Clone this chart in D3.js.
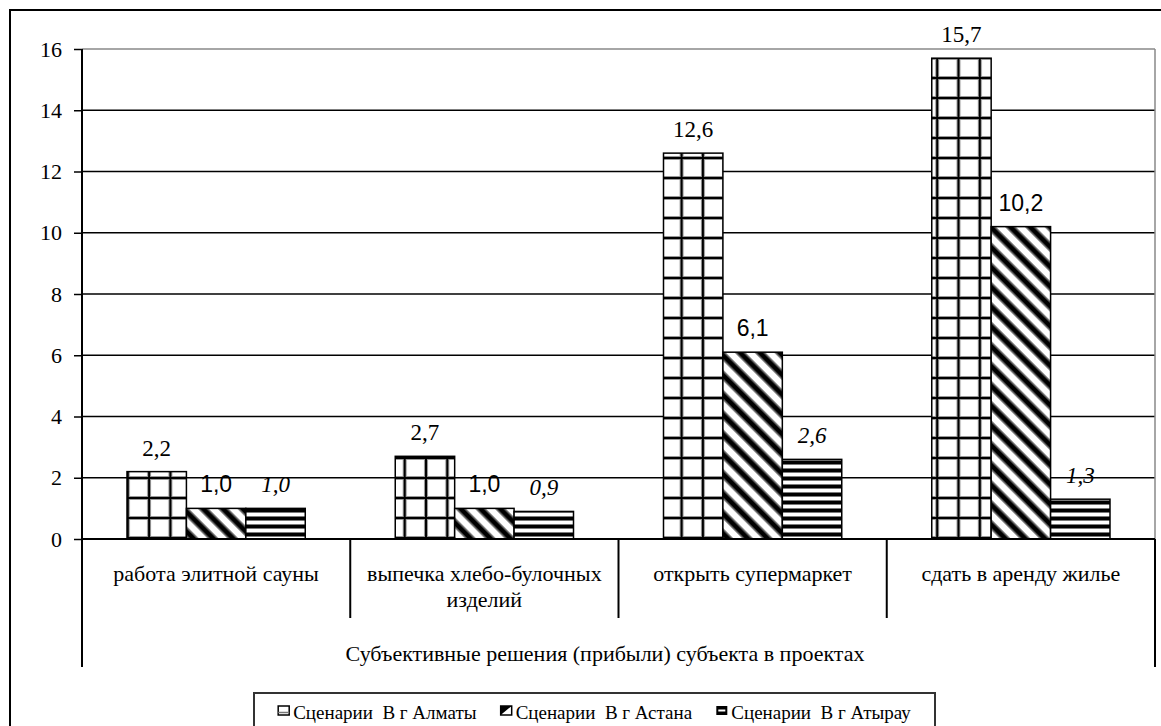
<!DOCTYPE html>
<html>
<head>
<meta charset="utf-8">
<script src="https://cdn.jsdelivr.net/npm/d3@7"></script>
<style>
  @font-face { font-family: "ChartSerif"; src: local("Liberation Serif"), local("Times New Roman"), local("Tinos"); font-style: normal; }
  @font-face { font-family: "ChartSerif"; src: local("Liberation Serif Italic"), local("LiberationSerif-Italic"), local("Times New Roman Italic"); font-style: italic; }
  body { margin: 0; background: #fff; }
  svg { display: block; }
  svg text { font-family: "Liberation Serif", "Times New Roman", Tinos, ChartSerif, serif !important; }
  svg text.sans { font-family: "Liberation Sans", Arial, Arimo, sans-serif !important; }
</style>
</head>
<body>
<svg id="chart" width="1161" height="726"></svg>
<script>
// Profit of each project under three city scenarios
const categories = [
  "работа элитной сауны",
  "выпечка хлебо-булочных изделий",
  "открыть супермаркет",
  "сдать в аренду жилье"
];
const seriesNames = ["Сценарии  В г Алматы", "Сценарии  В г Астана", "Сценарии  В г Атырау"];
const almatyValues = [2.2, 2.7, 12.6, 15.7];
const astanaValues = [1.0, 1.0, 6.1, 10.2];
const atyrauValues = [1.0, 0.9, 2.6, 1.3];
const yTickValues = [0, 2, 4, 6, 8, 10, 12, 14, 16];
const axisTitle = "Субъективные решения (прибыли) субъекта в проектах";

const seriesValues = [almatyValues, astanaValues, atyrauValues];

// Layout
const W = 1161, H = 726;
const plot = { left: 82, right: 1155, top: 49, bottom: 539 };
const axisBottom = 667;      // lower end of the category axis box
const sepBottom = 618;       // lower end of the category separators
const SERIF = '"Liberation Serif", "Times New Roman", serif';
const SANS = '"Liberation Sans", Arial, sans-serif';

const svg = d3.select("#chart");
const defs = svg.append("defs");

// ---- fill patterns ----
// Almaty: square grid
(function () {
  const w = 21.3, h = 20;
  const p = defs.append("pattern").attr("id", "pat-grid")
    .attr("patternUnits", "userSpaceOnUse")
    .attr("x", -w / 2).attr("y", 18 - h / 2)
    .attr("width", w).attr("height", h);
  p.append("rect").attr("width", w).attr("height", h).attr("fill", "#fff");
  p.append("line").attr("x1", w / 2).attr("x2", w / 2).attr("y1", 0).attr("y2", h)
    .attr("stroke", "#999").attr("stroke-width", 4);
  p.append("line").attr("x1", 0).attr("x2", w).attr("y1", h / 2).attr("y2", h / 2)
    .attr("stroke", "#999").attr("stroke-width", 4);
  p.append("line").attr("x1", w / 2).attr("x2", w / 2).attr("y1", 0).attr("y2", h)
    .attr("stroke", "#000").attr("stroke-width", 2);
  p.append("line").attr("x1", 0).attr("x2", w).attr("y1", h / 2).attr("y2", h / 2)
    .attr("stroke", "#000").attr("stroke-width", 2);
})();

// Astana: wide diagonal stripes running down to the right
(function () {
  const period = 14;
  const p = defs.append("pattern").attr("id", "pat-diag")
    .attr("patternUnits", "userSpaceOnUse")
    .attr("width", 10).attr("height", period)
    .attr("patternTransform", "rotate(45)");
  p.append("rect").attr("width", 10).attr("height", period).attr("fill", "#fff");
  p.append("rect").attr("y", 2).attr("width", 10).attr("height", 8).attr("fill", "#888");
  p.append("rect").attr("y", 3.5).attr("width", 10).attr("height", 5).attr("fill", "#000");
})();

// Atyrau: dense horizontal stripes
(function () {
  const period = 8;
  const p = defs.append("pattern").attr("id", "pat-horiz")
    .attr("patternUnits", "userSpaceOnUse")
    .attr("width", 10).attr("height", period).attr("y", 3);
  p.append("rect").attr("width", 10).attr("height", period).attr("fill", "#fff");
  p.append("rect").attr("y", 1).attr("width", 10).attr("height", 5).attr("fill", "#999");
  p.append("rect").attr("y", 1.8).attr("width", 10).attr("height", 3.4).attr("fill", "#000");
})();

const fills = ["url(#pat-grid)", "url(#pat-diag)", "url(#pat-horiz)"];

// ---- outer frame ----
svg.append("rect")
  .attr("x", 10).attr("y", 10)
  .attr("width", W + 20).attr("height", H + 20)
  .attr("fill", "#fff").attr("stroke", "#000").attr("stroke-width", 2);

// ---- scales ----
const x0 = d3.scaleBand().domain(categories).range([plot.left, plot.right]).padding(0);
// three adjoining ~60px bars centred in each ~268px band
const x1 = d3.scaleBand().domain(d3.range(seriesNames.length))
  .range([45, x0.bandwidth() - 45]).padding(0);
const y = d3.scaleLinear().domain([0, 16]).range([plot.bottom, plot.top]);

// ---- gridlines ----
svg.append("g")
  .selectAll("line")
  .data(yTickValues.filter(d => d > 0))
  .join("line")
  .attr("x1", plot.left).attr("x2", plot.right)
  .attr("y1", d => y(d)).attr("y2", d => y(d))
  .attr("stroke", d => d === 16 ? "#888" : "#000")
  .attr("stroke-width", 1.5);

// plot area right border
svg.append("line")
  .attr("x1", plot.right).attr("x2", plot.right)
  .attr("y1", plot.top).attr("y2", plot.bottom)
  .attr("stroke", "#888").attr("stroke-width", 1.5);

// ---- y axis ----
const yAxis = d3.axisLeft(y).tickValues(yTickValues).tickSize(8).tickPadding(12)
  .tickFormat(d3.format("d"));
const gy = svg.append("g").attr("transform", `translate(${plot.left},0)`).call(yAxis);
gy.attr("font-family", SERIF).attr("font-size", 22);
gy.select(".domain").remove();
gy.selectAll(".tick line").attr("stroke", "#000").attr("stroke-width", 1.5);
gy.selectAll(".tick text").attr("fill", "#000").style("font-family", SERIF);

// ---- bars ----
const fmt = d3.formatLocale({ decimal: ",", thousands: " ", grouping: [3], currency: ["", ""] }).format(".1f");

const groups = svg.append("g").selectAll("g")
  .data(categories)
  .join("g");

groups.each(function (cat, ci) {
  const g = d3.select(this);
  seriesValues.forEach((vals, si) => {
    const v = vals[ci];
    g.append("rect")
      .attr("x", x0(cat) + x1(si)).attr("y", y(v))
      .attr("width", x1.bandwidth()).attr("height", y(0) - y(v))
      .attr("fill", fills[si])
      .attr("stroke", "#000").attr("stroke-width", 1.5);
  });
});

// value labels: serif, sans, serif italic per series
const labelFamily = [SERIF, SANS, SERIF];
const labelClass = [null, "sans", null];
const labelStyle = ["normal", "normal", "italic"];
groups.each(function (cat, ci) {
  const g = d3.select(this);
  seriesValues.forEach((vals, si) => {
    const v = vals[ci];
    g.append("text")
      .attr("class", labelClass[si])
      .attr("x", x0(cat) + x1(si) + x1.bandwidth() / 2)
      .attr("y", y(v) - 16)
      .attr("text-anchor", "middle")
      .attr("font-family", labelFamily[si])
      .style("font-style", labelStyle[si])
      .attr("font-size", 23)
      .attr("fill", "#000")
      .text(fmt(v));
  });
});

// ---- category axis ----
svg.append("line")
  .attr("x1", plot.left).attr("x2", plot.right)
  .attr("y1", plot.bottom).attr("y2", plot.bottom)
  .attr("stroke", "#000").attr("stroke-width", 2);
svg.append("line")
  .attr("x1", plot.left).attr("x2", plot.left)
  .attr("y1", plot.top).attr("y2", axisBottom)
  .attr("stroke", "#000").attr("stroke-width", 2);
svg.append("line")
  .attr("x1", plot.right).attr("x2", plot.right)
  .attr("y1", plot.bottom).attr("y2", axisBottom)
  .attr("stroke", "#000").attr("stroke-width", 2);

svg.append("g").selectAll("line")
  .data(categories.slice(1))
  .join("line")
  .attr("x1", d => x0(d)).attr("x2", d => x0(d))
  .attr("y1", plot.bottom).attr("y2", sepBottom)
  .attr("stroke", "#000").attr("stroke-width", 2);

// category labels, wrapped to the band width
const catText = svg.append("g").selectAll("text")
  .data(categories)
  .join("text")
  .attr("font-family", SERIF).attr("font-size", 22)
  .attr("fill", "#000")
  .attr("text-anchor", "middle");

catText.each(function (d) {
  const t = d3.select(this);
  const cx = x0(d) + x0.bandwidth() / 2;
  const words = d.split(" ");
  const lines = [];
  let line = [];
  const probe = t.append("tspan");
  words.forEach(w => {
    const trial = line.concat(w).join(" ");
    probe.text(trial);
    if (probe.node().getComputedTextLength() > x0.bandwidth() - 8 && line.length) {
      lines.push(line.join(" "));
      line = [w];
    } else {
      line.push(w);
    }
  });
  lines.push(line.join(" "));
  probe.remove();
  lines.forEach((l, i) => {
    t.append("tspan").attr("x", cx).attr("y", 581 + i * 26).text(l);
  });
});

// axis title
svg.append("text")
  .attr("x", 605).attr("y", 661)
  .attr("text-anchor", "middle")
  .attr("font-family", SERIF).attr("font-size", 22)
  .attr("fill", "#000")
  .text(axisTitle);

// ---- legend: items spread evenly across a fixed box ----
const legendBox = { x: 254, y: 693, w: 681 };
const legend = svg.append("g");
legend.append("rect")
  .attr("x", legendBox.x).attr("y", legendBox.y)
  .attr("width", legendBox.w).attr("height", 60)
  .attr("fill", "#fff").attr("stroke", "#333").attr("stroke-width", 2);
const legendY = 719;
const markerW = 11, markerH = 9, markerGap = 4;
const items = legend.selectAll("g.item").data(seriesNames).join("g").attr("class", "item");
items.append("text")
  .attr("font-family", SERIF).attr("font-size", 19)
  .attr("xml:space", "preserve")
  .attr("fill", "#000")
  .attr("y", legendY)
  .text(d => d);
const widths = [];
items.select("text").each(function () { widths.push(this.getComputedTextLength()); });
const contentW = d3.sum(widths) + seriesNames.length * (markerW + markerGap);
const spare = Math.max(0, legendBox.w - contentW) / (seriesNames.length + 1);
let cursor = legendBox.x + spare;
items.each(function (d, i) {
  const g = d3.select(this);
  const mx = cursor, my = legendY - 13;
  // marker glyphs echoing each fill
  if (i === 0) {
    g.append("rect").attr("x", mx).attr("y", my).attr("width", markerW).attr("height", markerH)
      .attr("fill", "#fff").attr("stroke", "#000").attr("stroke-width", 1.5);
    g.append("line").attr("x1", mx).attr("x2", mx + markerW).attr("y1", my + markerH - 2.5).attr("y2", my + markerH - 2.5)
      .attr("stroke", "#777").attr("stroke-width", 1.5);
  } else if (i === 1) {
    g.append("rect").attr("x", mx).attr("y", my).attr("width", markerW).attr("height", markerH)
      .attr("fill", "#fff").attr("stroke", "#000").attr("stroke-width", 1.5);
    g.append("path").attr("d", `M${mx},${my}L${mx + markerW},${my}L${mx},${my + markerH}Z`).attr("fill", "#000");
  } else {
    g.append("rect").attr("x", mx).attr("y", my).attr("width", markerW).attr("height", markerH)
      .attr("fill", "#000");
    g.append("rect").attr("x", mx + 2).attr("y", my + 3.5).attr("width", markerW - 4).attr("height", 2)
      .attr("fill", "#fff");
  }
  g.select("text").attr("x", mx + markerW + markerGap);
  cursor += markerW + markerGap + widths[i] + spare;
});
</script>
</body>
</html>
